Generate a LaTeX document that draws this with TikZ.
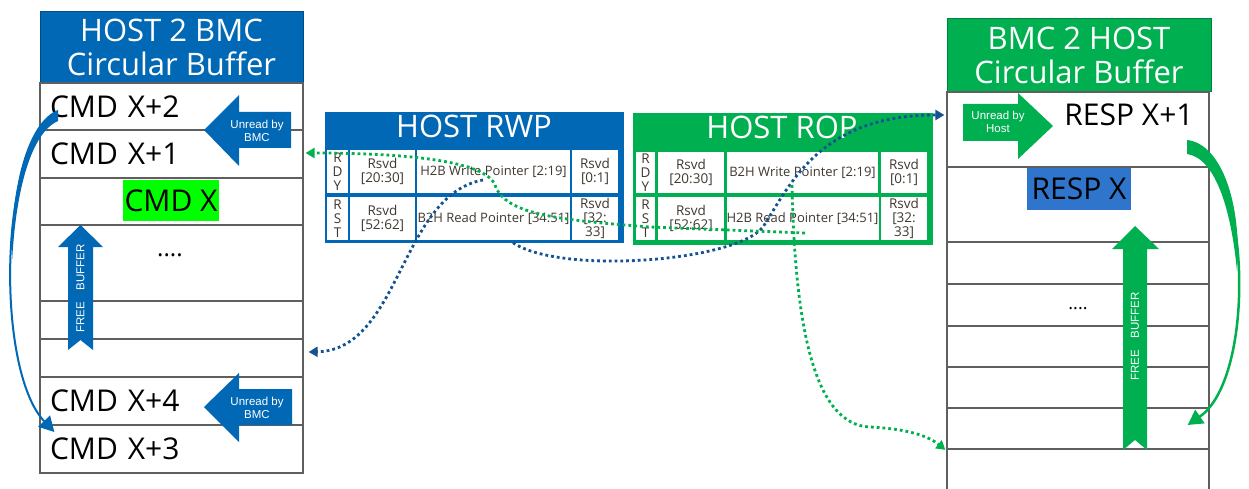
\documentclass[tikz,border=0pt]{standalone}
\usepackage{fontspec}
\setmainfont{Open Sans}
\newfontfamily\tagfont{Liberation Sans}
\usetikzlibrary{arrows.meta}
\definecolor{hostblue}{RGB}{0,104,181}
\definecolor{bmcgreen}{RGB}{0,176,80}
\definecolor{cmdgreen}{RGB}{0,255,0}
\definecolor{respblue}{RGB}{46,117,203}
\definecolor{dotblue}{RGB}{20,82,145}
\definecolor{rowline}{RGB}{95,95,95}
\definecolor{celltext}{RGB}{64,56,48}

\begin{document}
\begin{tikzpicture}[x=1pt, y=-1pt,
    every node/.style={inner sep=0pt},
    hdrbox/.style={draw=#1!75!black,fill=#1,text=white,align=center,line width=1pt,font=\fontsize{31}{34}\selectfont},
    lrow/.style={draw=rowline,line width=1.2pt,text width=243pt,inner xsep=10pt,align=left,font=\fontsize{30}{30}\selectfont},
    rrow/.style={draw=rowline,line width=1.2pt,minimum width=262pt},
    big/.style={font=\fontsize{30}{30}\selectfont},
    reg/.style={fill=#1,draw=#1,minimum width=298pt,minimum height=130pt},
    cell/.style={fill=white,text=celltext,align=center,font=\fontsize{13.5}{14}\selectfont},
    ptr/.style={cell,font=\fontsize{13}{14}\selectfont},
    tag/.style={text=white,align=center,font=\tagfont\fontsize{11.5}{13}\selectfont},
    dots/.style={#1,line width=2.8pt,dash pattern=on 2.8pt off 3pt,-{Triangle[length=9pt,width=10pt]}},
    sweep/.style={#1,-{Triangle[length=15pt,width=16pt]}}]
  \path[use as bounding box,fill=white] (0,0) rectangle (1249,489);

  \node[hdrbox=hostblue,minimum width=263pt,minimum height=71pt] (lhead) at (171.5,47.5) {HOST 2 BMC\\Circular Buffer};
  \node[lrow,minimum height=47pt] (cmd2) at (171.5,106.5) {CMD X+2};
  \node[lrow,minimum height=48pt] (cmd1) at (171.5,154) {CMD X+1};
  \node[lrow,minimum height=47pt] (cmd0) at (171.5,201.5) {};
  \node[lrow,minimum height=76pt] (lfree1) at (171.5,263) {};
  \node[lrow,minimum height=38pt] (lfree2) at (171.5,320) {};
  \node[lrow,minimum height=38pt] (lfree3) at (171.5,358) {};
  \node[lrow,minimum height=48pt] (cmd4) at (171.5,401) {CMD X+4};
  \node[lrow,minimum height=48pt] (cmd3) at (171.5,449) {CMD X+3};
  \node[big,fill=cmdgreen,minimum width=96pt,minimum height=41pt] (cmdx) at (171,200.5) {CMD X};
  \node[font=\fontsize{24}{24}\selectfont] (ldots) at (170,255) {....};

  \node[hdrbox=bmcgreen,minimum width=264pt,minimum height=73pt] (rhead) at (1079,55.5) {BMC 2 HOST\\Circular Buffer};
  \node[rrow,minimum height=75pt] (resp1) at (1078,129.5) {};
  \node[rrow,minimum height=75pt] (resp0) at (1078,204.5) {};
  \node[rrow,minimum height=42pt] (rfree1) at (1078,263) {};
  \node[rrow,minimum height=42pt] (rfree2) at (1078,305) {};
  \node[rrow,minimum height=41pt] (rfree3) at (1078,346.5) {};
  \node[rrow,minimum height=41pt] (rfree4) at (1078,387.5) {};
  \node[rrow,minimum height=41pt] (rfree5) at (1078,428.5) {};
  \node[rrow,minimum height=46pt] (rfree6) at (1078,472) {};
  \node[big] (respx1) at (1129,115) {RESP X+1};
  \node[big,fill=respblue,minimum width=104pt,minimum height=42pt] (respx) at (1079,189) {RESP X};
  \node[font=\fontsize{18}{18}\selectfont] (rdots) at (1078,309) {....};

  \node[reg=hostblue] (rwp) at (474,177) {};
  \node[text=white,font=\fontsize{31}{31}\selectfont] (rwptitle) at (474,126) {HOST RWP};
  \node[cell,minimum width=21pt,minimum height=43pt] (rwprdy) at (337.5,171.5) {R\\D\\Y};
  \node[cell,minimum width=65pt,minimum height=43pt] (rwpa) at (382.5,171.5) {Rsvd\\{[20:30]}};
  \node[ptr,minimum width=153pt,minimum height=43pt] (rwpwp) at (493.5,171.5) {H2B Write Pointer [2:19]};
  \node[cell,minimum width=46pt,minimum height=43pt] (rwpb) at (595,171.5) {Rsvd\\{[0:1]}};
  \node[cell,minimum width=21pt,minimum height=43pt] (rwprst) at (337.5,218.5) {R\\S\\T};
  \node[cell,minimum width=65pt,minimum height=43pt] (rwpc) at (382.5,218.5) {Rsvd\\{[52:62]}};
  \node[ptr,minimum width=153pt,minimum height=43pt] (rwprp) at (493.5,218.5) {B2H Read Pointer [34:51]};
  \node[cell,minimum width=46pt,minimum height=43pt] (rwpd) at (595,218.5) {Rsvd\\{[32:}\\33]};

  \node[reg=bmcgreen,minimum width=299pt,minimum height=131pt] (rop) at (782.5,178.5) {};
  \node[text=white,font=\fontsize{31}{31}\selectfont] (roptitle) at (782,127.5) {HOST ROP};
  \node[cell,minimum width=19pt,minimum height=41pt] (roprdy) at (645.5,172.5) {R\\D\\Y};
  \node[cell,minimum width=66pt,minimum height=41pt] (ropa) at (691,172.5) {Rsvd\\{[20:30]}};
  \node[ptr,minimum width=151pt,minimum height=41pt] (ropwp) at (802.5,172.5) {B2H Write Pointer [2:19]};
  \node[cell,minimum width=46pt,minimum height=41pt] (ropb) at (904,172.5) {Rsvd\\{[0:1]}};
  \node[cell,minimum width=19pt,minimum height=43pt] (roprst) at (645.5,218.5) {R\\S\\T};
  \node[cell,minimum width=66pt,minimum height=43pt] (ropc) at (691,218.5) {Rsvd\\{[52:62]}};
  \node[ptr,minimum width=151pt,minimum height=43pt] (roprp) at (802.5,218.5) {H2B Read Pointer [34:51]};
  \node[cell,minimum width=46pt,minimum height=43pt] (ropd) at (904,218.5) {Rsvd\\{[32:}\\33]};

  \fill[hostblue] (204,130) -- (239,95) -- (239,112) -- (291,112) -- (291,148) -- (239,148) -- (239,166) -- cycle;
  \node[tag] (unread1) at (257,131) {Unread by\\BMC};
  \fill[hostblue] (204,407) -- (239,373) -- (239,389) -- (292,389) -- (292,425) -- (239,425) -- (239,442) -- cycle;
  \node[tag] (unread2) at (257,408) {Unread by\\BMC};
  \fill[bmcgreen] (963,104) -- (1018,104) -- (1018,93) -- (1053,126) -- (1018,159) -- (1018,141) -- (963,141) -- cycle;
  \node[tag] (unread3) at (998,122) {Unread by\\Host};
  \fill[hostblue] (80.5,225) -- (103,247) -- (93,247) -- (93,350) -- (80.5,340) -- (68,350) -- (68,247) -- (58,247) -- cycle;
  \node[tag,rotate=90,font=\tagfont\fontsize{11.5}{10}\selectfont] (lfb) at (80.5,288.5) {FREE\hspace{12pt}BUFFER};
  \fill[bmcgreen] (1135,226) -- (1159,249) -- (1147,249) -- (1147,450) -- (1135,440) -- (1123,450) -- (1123,249) -- (1112,249) -- cycle;
  \node[tag,rotate=90,font=\tagfont\fontsize{11.5}{10}\selectfont] (rfb) at (1135,336.5) {FREE\hspace{12pt}BUFFER};

  \fill[hostblue] (58,110) .. controls (27,122) and (10,190) .. (12.25,259) .. controls (16,190) and (31,133) .. (58,121) -- cycle;
  \draw[sweep=hostblue,line width=2pt] ([xshift=18pt,yshift=-8.5pt]cmd2.west) .. controls +(-58,25) and +(-60,-63) .. ([xshift=15pt,yshift=17pt]cmd3.west);
  \fill[bmcgreen] (1187,140) .. controls (1223,144) and (1242,208) .. (1237,271) .. controls (1231,208) and (1215,158) .. (1187,154) -- cycle;
  \draw[sweep=bmcgreen,line width=2.5pt] ([xshift=-22pt,yshift=-17.5pt]resp1.east) .. controls +(63,8) and +(70,-48) .. ([xshift=-22pt,yshift=3.5pt]rfree5.east);

  \draw[dots=dotblue] ([xshift=-10.5pt,yshift=-8.5pt]rwpwp.center) .. controls +(-83,15) and +(92,-2) .. ([xshift=5pt,yshift=6pt]lfree3.east);
  \draw[dots=dotblue] ([xshift=19.5pt,yshift=-2.5pt]rwprp.south) .. controls +(47,32) and +(-28,35) .. (763,227) .. controls +(27,-42) and +(-125,0) .. ([xshift=-2pt,yshift=14.5pt]resp1.west);
  \draw[dots=bmcgreen] ([xshift=2.5pt,yshift=-14.5pt]roprp.center) -- (650,227) .. controls +(-90,-7) and +(10,30) .. (495,185) .. controls +(-10,-25) and +(95,0) .. ([xshift=2pt,yshift=1pt]cmd1.east);
  \draw[dots=bmcgreen] ([xshift=-10.5pt,yshift=-12.5pt]ropwp.center) .. controls +(3,145) and +(-55,-2) .. (870,427) .. controls +(40,2) and +(-16,-13) .. ([xshift=-1pt,yshift=-1.5pt]rfree6.north west);
\end{tikzpicture}
\end{document}
